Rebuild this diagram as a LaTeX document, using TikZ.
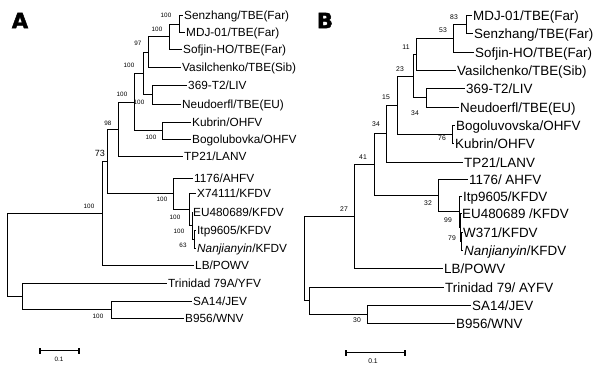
\documentclass[tikz,border=0pt]{standalone}
\usepackage{fontspec}
\setmainfont{Liberation Sans}
\newfontfamily\panelfont{DejaVu Sans}[BoldFeatures={FakeBold=2}]
\begin{document}
\begin{tikzpicture}[x=1pt,y=-1pt,
  br/.style={line width=1.8pt},
  leafA/.style={anchor=west, inner xsep=1pt, inner ysep=0pt, text height=8.4pt, text depth=0pt, font=\fontsize{11.8}{12}\selectfont},
  leafB/.style={anchor=west, inner xsep=1pt, inner ysep=0pt, text height=9.6pt, text depth=0pt, font=\fontsize{13.4}{14}\selectfont},
  bsA/.style={inner sep=0pt, font=\fontsize{6.3}{6.3}\selectfont},
  bsB/.style={inner sep=0pt, font=\fontsize{6.8}{6.8}\selectfont},
  panel/.style={inner sep=0pt, font=\panelfont\bfseries\fontsize{21}{21}\selectfont},
  sbar/.style={line width=1.4pt}]
\fill[white] (0,0) rectangle (600,372);
\useasboundingbox (0,0) rectangle (600,372);

% ---------------- Panel A ----------------
\node[panel] (pA) at (20,20.5) {A};
\node[leafA] (a1)  at (183,15.5)  {Senzhang/TBE(Far)};
\node[leafA] (a2)  at (185,32.5)  {MDJ-01/TBE(Far)};
\node[leafA] (a3)  at (182,49.5)  {Sofjin-HO/TBE(Far)};
\node[leafA] (a4)  at (181,67.5)  {Vasilchenko/TBE(Sib)};
\node[leafA] (a5)  at (187,85.5)  {369-T2/LIV};
\node[leafA] (a6)  at (181,104.5) {Neudoerfl/TBE(EU)};
\node[leafA] (a7)  at (191,122.5) {Kubrin/OHFV};
\node[leafA] (a8)  at (191,139.5) {Bogolubovka/OHFV};
\node[leafA] (a9)  at (183,156.5) {TP21/LANV};
\node[leafA] (a10) at (193,178.5) {1176/AHFV};
\node[leafA] (a11) at (196,193.5) {X74111/KFDV};
\node[leafA] (a12) at (192,212.5) {EU480689/KFDV};
\node[leafA] (a13) at (196,230.5) {Itp9605/KFDV};
\node[leafA] (a14) at (196,248.5) {\itshape Nanjianyin\upshape/KFDV};
\node[leafA] (a15) at (194,265.5) {LB/POWV};
\node[leafA] (a16) at (167,283.5) {Trinidad 79A/YFV};
\node[leafA] (a17) at (192,301.5) {SA14/JEV};
\node[leafA] (a18) at (184,318.5) {B956/WNV};

\coordinate (n1)  at (179.5,24.5);
\coordinate (n2)  at (169.5,36.5);
\coordinate (n3)  at (148.5,52.5);
\coordinate (n4)  at (152.5,94.5);
\coordinate (n5)  at (143.5,73.5);
\coordinate (n6)  at (162.5,130.5);
\coordinate (n7)  at (134.5,102.5);
\coordinate (n8)  at (118.5,129.5);
\coordinate (n9)  at (194.5,239.5);
\coordinate (n10) at (192.5,225.5);
\coordinate (n11) at (189.5,209.5);
\coordinate (n12) at (173.5,193.5);
\coordinate (n13) at (107.5,161.5);
\coordinate (n14) at (102.5,213.5);
\coordinate (n16) at (111.5,309.5);
\coordinate (n17) at (22.5,296.5);
\coordinate (rA)  at (7.5,254.5);

\draw[br] (n1) |- (a1.west);  \draw[br] (n1) |- (a2.west);
\draw[br] (n2) |- (n1);       \draw[br] (n2) |- (a3.west);
\draw[br] (n3) |- (n2);       \draw[br] (n3) |- (a4.west);
\draw[br] (n4) |- (a5.west);  \draw[br] (n4) |- (a6.west);
\draw[br] (n5) |- (n3);       \draw[br] (n5) |- (n4);
\draw[br] (n6) |- (a7.west);  \draw[br] (n6) |- (a8.west);
\draw[br] (n7) |- (n5);       \draw[br] (n7) |- (n6);
\draw[br] (n8) |- (n7);       \draw[br] (n8) |- (a9.west);
\draw[br] (n9) |- (a13.west); \draw[br] (n9) |- (a14.west);
\draw[br] (n10) |- (a12.west);\draw[br] (n10) |- (n9);
\draw[br] (n11) |- (a11.west);\draw[br] (n11) |- (n10);
\draw[br] (n12) |- (a10.west);\draw[br] (n12) |- (n11);
\draw[br] (n13) |- (n8);      \draw[br] (n13) |- (n12);
\draw[br] (n14) |- (n13);     \draw[br] (n14) |- (a15.west);
\draw[br] (n16) |- (a17.west);\draw[br] (n16) |- (a18.west);
\draw[br] (n17) |- (a16.west);\draw[br] (n17) |- (n16);
\draw[br] (rA) |- (n14);      \draw[br] (rA) |- (n17);

\node[bsA] (la1)  at (166,15)  {100};
\node[bsA] (la2)  at (157,29)  {100};
\node[bsA] (la3)  at (138,43)  {97};
\node[bsA] (la5)  at (129,65)  {100};
\node[bsA] (la4)  at (139,102) {100};
\node[bsA] (la6)  at (151,137) {100};
\node[bsA] (la7)  at (122,94)  {100};
\node[bsA] (la8)  at (108,123) {98};
\node[inner sep=0pt, font=\fontsize{9}{9}\selectfont] (la13) at (100,153) {73};
\node[bsA] (la12) at (162,199) {100};
\node[bsA] (la11) at (175,217) {100};
\node[bsA] (la10) at (179,231) {100};
\node[bsA] (la9)  at (183,245) {63};
\node[bsA] (la14) at (89,206)  {100};
\node[bsA] (la16) at (98,316)  {100};

\coordinate (sa1) at (40,350.5);
\coordinate (sa2) at (79,350.5);
\draw[sbar] (sa1) -- (sa2);
\draw[sbar] ([yshift=-3pt]sa1) -- ([yshift=3pt]sa1);
\draw[sbar] ([yshift=-3pt]sa2) -- ([yshift=3pt]sa2);
\node[bsA] (sla) at (59,359) {0.1};

% ---------------- Panel B ----------------
\node[panel] (pB) at (325,20.5) {B};
\node[leafB] (b1)  at (472,15.5)  {MDJ-01/TBE(Far)};
\node[leafB] (b2)  at (473,33.5)  {Senzhang/TBE(Far)};
\node[leafB] (b3)  at (474,52.5)  {Sofjin-HO/TBE(Far)};
\node[leafB] (b4)  at (456,70.5)  {Vasilchenko/TBE(Sib)};
\node[leafB] (b5)  at (465,88.5)  {369-T2/LIV};
\node[leafB] (b6)  at (459,107.5) {Neudoerfl/TBE(EU)};
\node[leafB] (b7)  at (455,125.5) {Bogoluvovska/OHFV};
\node[leafB] (b8)  at (454,143.5) {Kubrin/OHFV};
\node[leafB] (b9)  at (463,162.5) {TP21/LANV};
\node[leafB] (b10) at (468,179.5) {1176/ AHFV};
\node[leafB] (b11) at (462,196.5) {Itp9605/KFDV};
\node[leafB] (b12) at (461,213.5) {EU480689 /KFDV};
\node[leafB] (b13) at (462,232.5) {W371/KFDV};
\node[leafB] (b14) at (463,250.5) {\itshape Nanjianyin\upshape/KFDV};
\node[leafB] (b15) at (443,268.5) {LB/POWV};
\node[leafB] (b16) at (444,287.5) {Trinidad 79/ AYFV};
\node[leafB] (b17) at (471,305.5) {SA14/JEV};
\node[leafB] (b18) at (455,323.5) {B956/WNV};

\coordinate (m1)  at (466.5,24.5);
\coordinate (m2)  at (453.5,38.5);
\coordinate (m3)  at (416.5,54.5);
\coordinate (m4)  at (426.5,97.5);
\coordinate (m5)  at (413.5,76.5);
\coordinate (m6)  at (452.5,134.5);
\coordinate (m7)  at (397.5,105.5);
\coordinate (m8)  at (386.5,133.5);
\coordinate (m9)  at (461.5,241.5);
\coordinate (m10) at (460.5,227.5);
\coordinate (m11) at (459.5,211.5);
\coordinate (m12) at (438.5,195.5);
\coordinate (m13) at (374.5,164.5);
\coordinate (m14) at (354.5,216.5);
\coordinate (m15) at (367.5,314.5);
\coordinate (m16) at (309.5,300.5);
\coordinate (rB)  at (304.5,258.5);

\draw[br] (m1) |- (b1.west);  \draw[br] (m1) |- (b2.west);
\draw[br] (m2) |- (m1);       \draw[br] (m2) |- (b3.west);
\draw[br] (m3) |- (m2);       \draw[br] (m3) |- (b4.west);
\draw[br] (m4) |- (b5.west);  \draw[br] (m4) |- (b6.west);
\draw[br] (m5) |- (m3);       \draw[br] (m5) |- (m4);
\draw[br] (m6) |- (b7.west);  \draw[br] (m6) |- (b8.west);
\draw[br] (m7) |- (m5);       \draw[br] (m7) |- (m6);
\draw[br] (m8) |- (m7);       \draw[br] (m8) |- (b9.west);
\draw[br] (m9) |- (b13.west); \draw[br] (m9) |- (b14.west);
\draw[br] (m10) |- (b12.west);\draw[br] (m10) |- (m9);
\draw[br] (m11) |- (b11.west);\draw[br] (m11) |- (m10);
\draw[br] (m12) |- (b10.west);\draw[br] (m12) |- (m11);
\draw[br] (m13) |- (m8);      \draw[br] (m13) |- (m12);
\draw[br] (m14) |- (m13);     \draw[br] (m14) |- (b15.west);
\draw[br] (m15) |- (b17.west);\draw[br] (m15) |- (b18.west);
\draw[br] (m16) |- (b16.west);\draw[br] (m16) |- (m15);
\draw[br] (rB) |- (m14);      \draw[br] (rB) |- (m16);

\node[bsB] (lb1)  at (454,17)  {83};
\node[bsB] (lb2)  at (443,30)  {53};
\node[bsB] (lb3)  at (406,47)  {11};
\node[bsB] (lb5)  at (400,69)  {23};
\node[bsB] (lb4)  at (415,113) {34};
\node[bsB] (lb6)  at (442,138) {76};
\node[bsB] (lb7)  at (386,97)  {15};
\node[bsB] (lb8)  at (376,124) {34};
\node[bsB] (lb13) at (363,157) {41};
\node[bsB] (lb12) at (428,203) {32};
\node[bsB] (lb11) at (448,220) {99};
\node[bsB] (lb10) at (452,238) {79};
\node[bsB] (lb14) at (344,209) {27};
\node[bsB] (lb15) at (357,320) {30};

\coordinate (sb1) at (346,352.5);
\coordinate (sb2) at (405,352.5);
\draw[sbar] (sb1) -- (sb2);
\draw[sbar] ([yshift=-3pt]sb1) -- ([yshift=3pt]sb1);
\draw[sbar] ([yshift=-3pt]sb2) -- ([yshift=3pt]sb2);
\node[bsB] (slb) at (373,361) {0.1};
\end{tikzpicture}
\end{document}
